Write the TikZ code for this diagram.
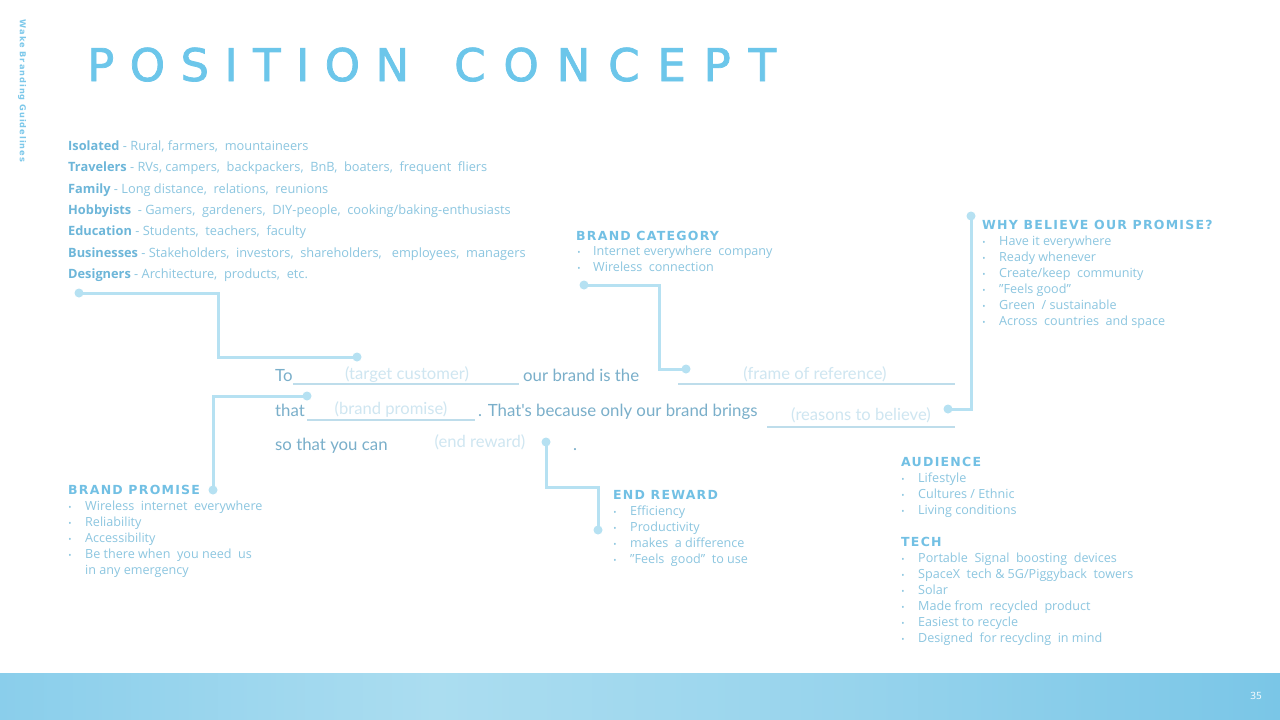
\documentclass[tikz,border=0pt]{standalone}
\usepackage{fontspec}
\setmainfont{Open Sans}
\newfontfamily\titlefont[FakeBold=1.6]{DejaVu Sans}
\newfontfamily\headfont[LetterSpace=10]{DejaVu Sans}
\newfontfamily\sidefont[LetterSpace=12]{DejaVu Sans}
\newfontfamily\statefont{Lato}
\definecolor{titleblue}{HTML}{6CC6EA}
\definecolor{headblue}{HTML}{72C0E4}
\definecolor{bodyblue}{HTML}{8CC6E0}
\definecolor{labblue}{HTML}{6DB6D9}
\definecolor{sideblue}{HTML}{7CC8EA}
\definecolor{stateblue}{HTML}{7AAFCA}
\definecolor{placegrey}{HTML}{CFE6F1}
\definecolor{ulinecol}{HTML}{BEDDEB}
\definecolor{linecol}{HTML}{B6E1F2}
\definecolor{bandA}{HTML}{8ACEEB}
\definecolor{bandB}{HTML}{ABDDF0}
\definecolor{bandC}{HTML}{7AC6E7}
\pgfdeclarehorizontalshading{bandshade}{100bp}{color(0bp)=(bandA); color(25bp)=(bandA); color(42bp)=(bandB); color(58bp)=(bandB!60!bandC); color(75bp)=(bandC); color(100bp)=(bandC)}
\newcommand\blist[5]{%
  \foreach \t [count=\i] in {#5} {
    \node[itm] (#1\i) at (#3,{#4+16*(\i-1)}) {\t};
    \node[bul] (#1b\i) at (#2,{#4+16*(\i-1)}) {•};
  }}
\begin{document}
\begin{tikzpicture}[x=1pt,y=-1pt,
  hd/.style={anchor=base west,inner sep=0,text=headblue,font=\headfont\bfseries\fontsize{12.5}{14}\selectfont},
  itm/.style={anchor=base west,inner sep=0,text=bodyblue,font=\fontsize{12.6}{14}\selectfont},
  bul/.style={anchor=base,inner sep=0,text=bodyblue,font=\fontsize{8.5}{10}\selectfont},
  lst/.style={anchor=base west,inner sep=0,text=bodyblue,font=\fontsize{12.8}{14}\selectfont},
  stm/.style={anchor=base west,inner sep=0,text=stateblue,font=\statefont\fontsize{16.8}{18}\selectfont},
  plc/.style={anchor=base,inner sep=0,text=placegrey,font=\statefont\fontsize{16.6}{18}\selectfont},
  uline/.style={draw=ulinecol,line width=1.2pt},
  conn/.style={draw=linecol,line width=3pt},
  dotn/.style={circle,fill=linecol,inner sep=0,minimum size=9pt}]
\useasboundingbox (0,0) rectangle (1280,720);
\fill[white] (0,0) rectangle (1280,720);
% bottom band
\shade[shading=bandshade] (0,673) rectangle (1280,720);
\node[text=white,font=\fontsize{10}{12}\selectfont,inner sep=0] (pg) at (1256,696) {35};
% side text
\node[rotate=-90,inner sep=0,text=sideblue,font=\sidefont\bfseries\fontsize{8.2}{10}\selectfont] (side) at (22,91) {Wake Branding Guidelines};
% title
\node[anchor=base west,inner sep=0,text=titleblue,font=\titlefont\fontsize{45}{45}\selectfont] (t1) at (87,81)
  {\makebox[322pt][s]{P\hfill O\hfill S\hfill I\hfill T\hfill I\hfill O\hfill N}};
\node[anchor=base west,inner sep=0,text=titleblue,font=\titlefont\fontsize{45}{45}\selectfont] (t2) at (454,81)
  {\makebox[322pt][s]{C\hfill O\hfill N\hfill C\hfill E\hfill P\hfill T}};
% audience list (left)
\node[lst] (l1) at (68,150) {\textcolor{labblue}{\textbf{Isolated}} - Rural,\ farmers,\ \ mountaineers};
\node[lst] (l2) at (68,171) {\textcolor{labblue}{\textbf{Travelers}} - RVs,\ campers,\ \ backpackers,\ \ BnB,\ \ boaters,\ \ frequent\ \ fliers};
\node[lst] (l3) at (68,193) {\textcolor{labblue}{\textbf{Family}} - Long distance,\ \ relations,\ \ reunions};
\node[lst] (l4) at (68,214) {\textcolor{labblue}{\textbf{Hobbyists}}\ \ - Gamers,\ \ gardeners,\ \ DIY-people,\ \ cooking/baking-enthusiasts};
\node[lst] (l5) at (68,235) {\textcolor{labblue}{\textbf{Education}} - Students,\ \ teachers,\ \ faculty};
\node[lst] (l6) at (68,257) {\textcolor{labblue}{\textbf{Businesses}} - Stakeholders,\ \ investors,\ \ shareholders,\ \ \ employees,\ \ managers};
\node[lst] (l7) at (68,278) {\textcolor{labblue}{\textbf{Designers}} - Architecture,\ \ products,\ \ etc.};
% brand category
\node[hd] (h1) at (576,240) {BRAND CATEGORY};
\blist{bc}{579}{593}{255.5}{Internet everywhere\ \ company, Wireless\ \ connection}
% why believe
\node[hd] (h2) at (982,229.5) {WHY BELIEVE OUR PROMISE?};
\blist{wb}{984}{999}{245.5}{Have it everywhere, Ready whenever, Create/keep\ \ community, "Feels good", Green\ \ / sustainable, Across\ \ countries\ \ and space}
% brand promise
\node[hd] (h3) at (68,494.5) {BRAND PROMISE};
\blist{bp}{70}{85}{510.5}{Wireless\ \ internet\ \ everywhere, Reliability, Accessibility, Be there when\ \ you need\ \ us}
\node[itm] (bp5) at (85,574.5) {in any emergency};
% end reward
\node[hd] (h4) at (613,499.5) {END REWARD};
\blist{er}{615}{630}{515.5}{Efficiency, Productivity, makes\ \ a difference, "Feels\ \ good"\ \ to use}
% audience
\node[hd] (h5) at (901,466.5) {AUDIENCE};
\blist{au}{903}{918}{482.5}{Lifestyle, Cultures / Ethnic, Living conditions}
% tech
\node[hd] (h6) at (901,546.5) {TECH};
\blist{te}{903}{918}{562.5}{Portable\ \ Signal\ \ boosting\ \ devices, SpaceX\ \ tech \& 5G/Piggyback\ \ towers, Solar, Made from\ \ recycled\ \ product, Easiest to recycle, Designed\ \ for recycling\ \ in mind}
% statement
\node[stm] (s1) at (275,381) {To};
\node[stm] (s2) at (523,381) {our brand is the};
\node[stm] (s3) at (275,416) {that};
\node[stm] (s4) at (478,416) {. That's because only our brand brings};
\node[stm] (s5) at (275,450) {so that you can};
\node[stm] (s6) at (573,450) {.};
\node[plc] (p1) at (407,379) {(target customer)};
\node[plc] (p2) at (815,379) {(frame of reference)};
\node[plc] (p3) at (391,414) {(brand promise)};
\node[plc] (p4) at (861,420) {(reasons to believe)};
\node[plc] (p5) at (480,447) {(end reward)};
\draw[uline] (293,384) -- (519,384);
\draw[uline] (678,384) -- (955,384);
\draw[uline] (307,420) -- (475,420);
\draw[uline] (767,427) -- (955,427);
% connectors
\node[dotn] (c1a) at (79,293) {};
\node[dotn] (c1b) at (357,357) {};
\draw[conn] (c1a.center) -- (218,293) |- (c1b.center);
\node[dotn] (c2a) at (584,285) {};
\node[dotn] (c2b) at (686,369) {};
\draw[conn] (c2a.center) -- (659,285) |- (c2b.center);
\node[dotn] (c3a) at (971,216) {};
\node[dotn] (c3b) at (948,409) {};
\draw[conn] (c3a.center) |- (c3b.center);
\node[dotn] (c4a) at (307,396) {};
\node[dotn] (c4b) at (213,490) {};
\draw[conn] (c4a.center) -| (c4b.center);
\node[dotn] (c5a) at (546,442) {};
\node[dotn] (c5b) at (598,530) {};
\draw[conn] (c5a.center) -- (546,487) -| (c5b.center);
\end{tikzpicture}
\end{document}
